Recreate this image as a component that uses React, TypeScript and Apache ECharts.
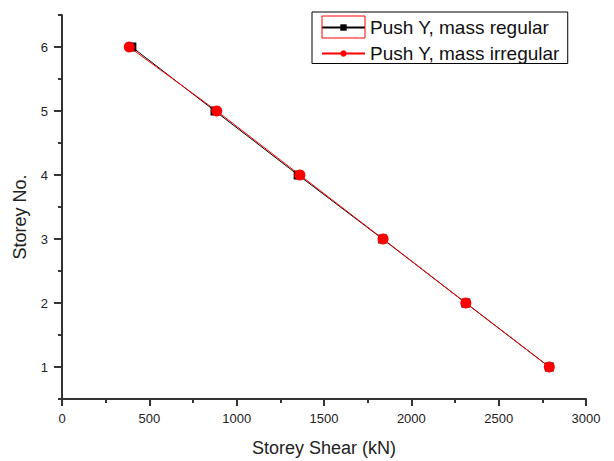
import React, { useEffect, useRef } from "react";
import * as echarts from "echarts";

const storeys = [6, 5, 4, 3, 2, 1];
const regularShear = [400, 876, 1352, 1836, 2312, 2790];
const irregularShear = [385, 886, 1362, 1838, 2312, 2790];
const seriesNames = ["Push Y, mass regular", "Push Y, mass irregular"];
const yMajorTicks = [1, 2, 3, 4, 5, 6];
const xTitle = "Storey Shear (kN)";
const yTitle = "Storey No.";

const FONT = "Liberation Sans, Arial, sans-serif";
const AXIS_COLOR = "#333";

export default function App() {
  const ref = useRef<HTMLDivElement>(null);
  useEffect(() => {
    if (!ref.current) return;
    const chart = echarts.init(ref.current, null, { renderer: "svg" });
    const option: any = {
      animation: false,
      backgroundColor: "#fff",
      textStyle: { fontFamily: FONT },
      grid: {
        left: 62,
        top: 15,
        width: 524,
        height: 384,
        containLabel: false,
        outerBoundsMode: "none",
      },
      legend: {
        orient: "vertical",
        left: 312,
        top: 12,
        borderColor: "#000",
        borderWidth: 1,
        padding: [6, 8, 0.5, 9],
        itemGap: 7,
        itemWidth: 43,
        itemHeight: 8,
        textStyle: { fontSize: 19, color: "#111", fontFamily: FONT },
        data: seriesNames,
      },
      xAxis: {
        type: "value",
        min: 0,
        max: 3000,
        interval: 500,
        name: xTitle,
        nameLocation: "middle",
        nameGap: 40,
        nameTextStyle: { fontSize: 18, color: "#222", fontFamily: FONT },
        axisLine: { show: true, onZero: false, lineStyle: { color: AXIS_COLOR, width: 2 } },
        axisTick: { show: true, length: 7, lineStyle: { color: AXIS_COLOR, width: 2 } },
        minorTick: { show: true, splitNumber: 2, length: 4, lineStyle: { color: AXIS_COLOR, width: 2 } },
        axisLabel: {
          fontSize: 13,
          color: "#222",
          margin: 13,
          fontFamily: FONT,
          formatter: (v: number) => String(v),
        },
        splitLine: { show: false },
        minorSplitLine: { show: false },
      },
      yAxis: [
        {
          type: "value",
          position: "left",
          min: 0.5,
          max: 6.5,
          interval: 0.5,
          axisLine: { show: true, onZero: false, lineStyle: { color: AXIS_COLOR, width: 2 } },
          axisTick: { show: true, length: 4, lineStyle: { color: AXIS_COLOR, width: 2 } },
          axisLabel: {
            fontSize: 13,
            color: "#222",
            margin: 14,
            fontFamily: FONT,
            formatter: (v: number) => (Number.isInteger(v) ? String(v) : ""),
          },
          splitLine: { show: false },
        },
        {
          type: "value",
          position: "left",
          min: 0.5,
          max: 6.5,
          interval: 0.5,
          axisLine: { show: false },
          axisTick: {
            show: true,
            length: 8,
            customValues: yMajorTicks,
            lineStyle: { color: AXIS_COLOR, width: 2 },
          },
          axisLabel: { show: false },
          splitLine: { show: false },
        },
      ],
      series: [
        {
          name: seriesNames[0],
          type: "line",
          yAxisIndex: 0,
          data: storeys.map((s, i) => [regularShear[i], s]),
          symbol: "rect",
          symbolSize: 9,
          lineStyle: { color: "#000", width: 1 },
          itemStyle: { color: "#000" },
          z: 2,
        },
        {
          name: seriesNames[1],
          type: "line",
          yAxisIndex: 0,
          data: storeys.map((s, i) => [irregularShear[i], s]),
          symbol: "circle",
          symbolSize: 11,
          lineStyle: { color: "#ff0000", width: 1 },
          itemStyle: { color: "#ff0000" },
          z: 3,
        },
      ],
      graphic: [
        {
          type: "rect",
          shape: { x: 322, y: 16, width: 43, height: 22 },
          style: { fill: "none", stroke: "#ff0000", lineWidth: 1 },
          z: 100,
        },
        {
          type: "text",
          x: 20,
          y: 217,
          rotation: Math.PI / 2,
          style: {
            text: yTitle,
            fontSize: 18,
            fill: "#222",
            fontFamily: FONT,
            align: "center",
            verticalAlign: "middle",
          },
          z: 100,
        },
      ],
    };
    chart.setOption(option);
    return () => chart.dispose();
  }, []);
  return (
    <div
      ref={ref}
      style={{ position: "fixed", left: 0, top: 0, width: 614, height: 461, background: "#fff" }}
    />
  );
}
